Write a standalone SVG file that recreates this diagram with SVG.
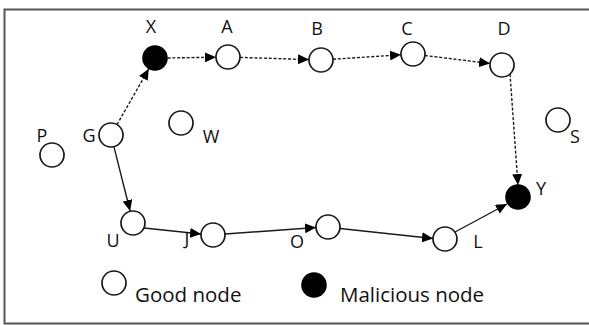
<svg xmlns="http://www.w3.org/2000/svg" width="589" height="325" viewBox="0 0 589 325">
<style>
.nd{fill:#fff;stroke:#1a1a1a;stroke-width:1.7}
.bad{fill:#000;stroke:#000;stroke-width:1.6}
.lbl{font-family:"Open Sans","Liberation Sans",sans-serif;font-size:18px;fill:#111;text-anchor:middle}
.leg{font-family:"Open Sans","Liberation Sans",sans-serif;font-size:20.5px;fill:#111}
.e{stroke:#1a1a1a;stroke-width:1.4;fill:none;marker-end:url(#ah)}
.d{stroke-dasharray:3 1.8}
</style>
<defs>
<marker id="ah" markerUnits="userSpaceOnUse" markerWidth="12" markerHeight="10" refX="11" refY="5" orient="auto">
<path d="M0,0 L11,5 L0,10 z" fill="#000"/>
</marker>
</defs>
<rect x="4.5" y="9.5" width="600" height="314" fill="#fff" stroke="#555" stroke-width="2"/>
<g id="connectors">
<line class="e d" x1="117" y1="124.6" x2="148.8" y2="68.8"/>
<line class="e d" x1="167.5" y1="58" x2="216" y2="57.2"/>
<line class="e d" x1="240" y1="57.4" x2="309" y2="59.6"/>
<line class="e d" x1="333" y1="59.2" x2="401" y2="54.8"/>
<line class="e d" x1="424.9" y1="55.5" x2="490.1" y2="63.5"/>
<line class="e d" x1="510" y1="74" x2="518" y2="185"/>
<line class="e" x1="113.9" y1="146.6" x2="130.1" y2="211"/>
<line class="e" x1="144" y1="228" x2="201" y2="234"/>
<line class="e" x1="225" y1="234" x2="316" y2="227.5"/>
<line class="e" x1="340" y1="228.5" x2="433" y2="238.5"/>
<line class="e" x1="455" y1="232" x2="507" y2="204"/>
</g>
<g id="X"><circle class="bad" cx="155" cy="58" r="12"/><text class="lbl" x="151" y="33">X</text></g>
<g id="A"><circle class="nd" cx="228" cy="57" r="12"/><text class="lbl" x="227" y="33">A</text></g>
<g id="B"><circle class="nd" cx="321" cy="60" r="12"/><text class="lbl" x="317" y="35">B</text></g>
<g id="C"><circle class="nd" cx="413" cy="54" r="12"/><text class="lbl" x="407" y="35">C</text></g>
<g id="D"><circle class="nd" cx="502" cy="65" r="12"/><text class="lbl" x="504" y="35">D</text></g>
<g id="G"><circle class="nd" cx="111" cy="135" r="12"/><text class="lbl" x="89" y="142">G</text></g>
<g id="P"><circle class="nd" cx="52" cy="155" r="12"/><text class="lbl" x="42" y="142">P</text></g>
<g id="W"><circle class="nd" cx="181" cy="123" r="12"/><text class="lbl" x="211" y="143">W</text></g>
<g id="S"><circle class="nd" cx="558" cy="120" r="12"/><text class="lbl" x="575" y="143">S</text></g>
<g id="U"><circle class="nd" cx="133" cy="223" r="12"/><text class="lbl" x="113" y="247">U</text></g>
<g id="J"><circle class="nd" cx="213" cy="235" r="12"/><text class="lbl" x="187" y="245">J</text></g>
<g id="O"><circle class="nd" cx="328" cy="227" r="12"/><text class="lbl" x="297" y="248">O</text></g>
<g id="L"><circle class="nd" cx="445" cy="239" r="12"/><text class="lbl" x="478" y="248">L</text></g>
<g id="Y"><circle class="bad" cx="518" cy="197" r="12"/><text class="lbl" x="541" y="195">Y</text></g>
<g id="legend-good"><circle class="nd" cx="114" cy="283" r="12"/><text class="leg" x="135" y="302">Good node</text></g>
<g id="legend-malicious"><circle class="bad" cx="314" cy="285" r="12"/><text class="leg" x="340" y="302">Malicious node</text></g>
</svg>
